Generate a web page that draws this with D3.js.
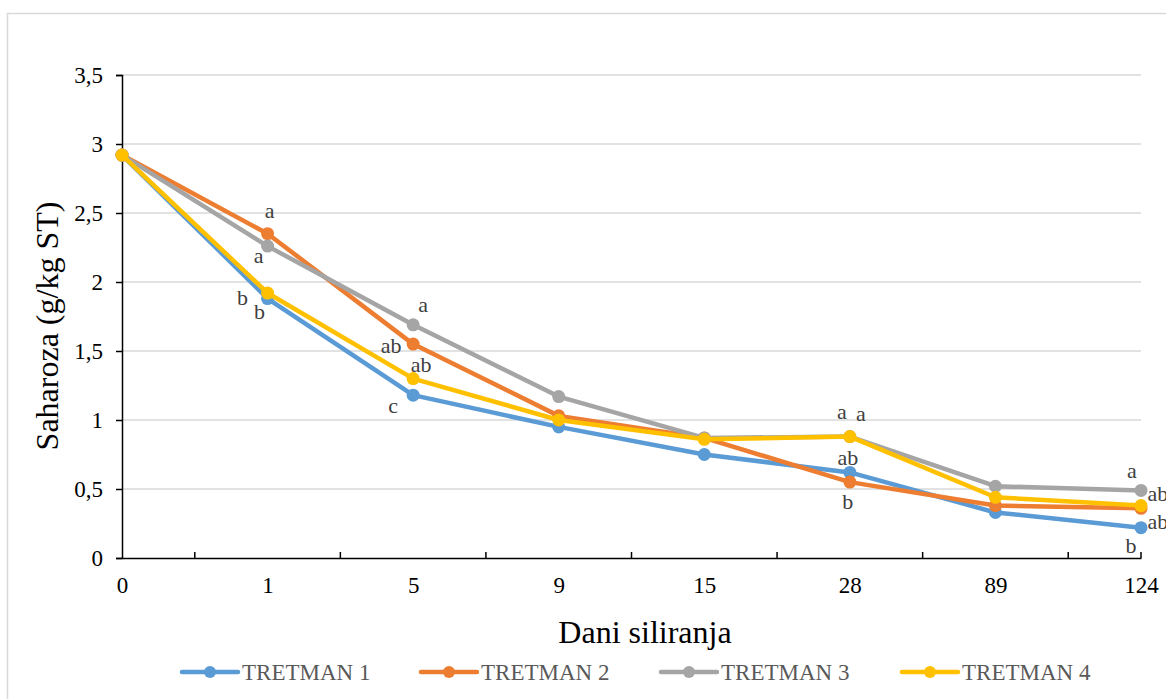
<!DOCTYPE html>
<html>
<head>
<meta charset="utf-8">
<script src="https://cdnjs.cloudflare.com/ajax/libs/d3/7.8.5/d3.min.js"></script>
<style>
    body { margin: 0; background: #fff; }
    svg { display: block; }
    svg text { font-family: "Liberation Serif", "Times New Roman", serif; }
</style>
</head>
<body>
<svg id="chart" width="1166" height="699"></svg>
<script>
// days of silage
var days = ["0", "1", "5", "9", "15", "28", "89", "124"];
var seriesNames = ["TRETMAN 1", "TRETMAN 2", "TRETMAN 3", "TRETMAN 4"];
var tretman1 = [2.92, 1.88, 1.18, 0.95, 0.75, 0.62, 0.33, 0.22];
var tretman2 = [2.92, 2.35, 1.55, 1.03, 0.87, 0.55, 0.38, 0.36];
var tretman3 = [2.92, 2.26, 1.69, 1.17, 0.87, 0.88, 0.52, 0.49];
var tretman4 = [2.92, 1.92, 1.30, 1.00, 0.86, 0.88, 0.44, 0.38];
var yTicks = [0, 0.5, 1, 1.5, 2, 2.5, 3, 3.5];

// significance letters: [series, day index, letter]
var letters = [
    [1, 1, "a"], [2, 1, "a"], [3, 1, "b"], [0, 1, "b"],
    [2, 2, "a"], [1, 2, "ab"], [3, 2, "ab"], [0, 2, "c"],
    [2, 5, "a"], [3, 5, "a"], [0, 5, "ab"], [1, 5, "b"],
    [2, 7, "a"], [3, 7, "ab"], [0, 7, "ab"], [0, 7, "b"]
];
// where each letter sits relative to its point
var letterOffsets = [
    [2, -22], [-9, 11], [-25, 6], [-8, 14],
    [10, -19], [-22, 3], [8, -13], [-20, 12],
    [-8, -24], [11, -22], [-2, -13], [-2, 21],
    [-9, -18], [17, -11], [17, -5], [-10, 19]
];

var colors = ["#5B9BD5", "#ED7D31", "#A5A5A5", "#FFC000"];
var allSeries = [tretman1, tretman2, tretman3, tretman4];
var serif = "Liberation Serif";

var svg = d3.select("#chart");

// outer chart border
svg.append("rect")
    .attr("x", 7.5).attr("y", 13.5)
    .attr("width", 1200).attr("height", 720)
    .attr("fill", "none")
    .attr("stroke", "#d9d9d9")
    .attr("stroke-width", 1.5);

var x = d3.scalePoint().domain(days).range([122, 1141]);
var xi = d3.scaleLinear().domain([0, days.length - 1]).range([122, 1141]);
var y = d3.scaleLinear().domain([0, 3.5]).range([558, 75]);

// gridlines
svg.append("g")
    .selectAll("line")
    .data(yTicks.slice(1))
    .enter().append("line")
    .attr("x1", 122).attr("x2", 1141)
    .attr("y1", function (d) { return y(d); })
    .attr("y2", function (d) { return y(d); })
    .attr("stroke", "#d9d9d9")
    .attr("stroke-width", 1.5);

// y axis
var yAxis = svg.append("g")
    .attr("transform", "translate(122,0)")
    .call(d3.axisLeft(y).tickValues(yTicks).tickSize(6).tickPadding(13)
        .tickFormat(function (d) { return String(d).replace(".", ","); }));
yAxis.attr("font-family", serif);
yAxis.select(".domain").attr("stroke", "#000").attr("stroke-width", 1.5);
yAxis.selectAll(".tick line").attr("stroke", "#000").attr("stroke-width", 1.5);
yAxis.selectAll("text")
    .attr("font-size", 23)
    .attr("fill", "#000");

// x axis, labels on categories, tick marks between them
var xAxis = svg.append("g")
    .attr("transform", "translate(0,558)")
    .call(d3.axisBottom(x).tickSize(0).tickPadding(19));
xAxis.attr("font-family", serif);
xAxis.select(".domain").attr("stroke", "#000").attr("stroke-width", 1.5);
xAxis.selectAll("text")
    .attr("font-size", 23)
    .attr("fill", "#000");

var midTicks = d3.range(0.5, days.length - 1, 1).concat([days.length - 1]);
svg.append("g")
    .selectAll("line")
    .data(midTicks)
    .enter().append("line")
    .attr("x1", function (d) { return xi(d); })
    .attr("x2", function (d) { return xi(d); })
    .attr("y1", 558).attr("y2", 552)
    .attr("stroke", "#000")
    .attr("stroke-width", 1.5);

// axis titles
svg.append("text")
    .attr("x", 645).attr("y", 643)
    .attr("text-anchor", "middle")
    .attr("font-family", serif)
    .attr("font-size", 32)
    .attr("fill", "#000")
    .text("Dani siliranja");

svg.append("text")
    .attr("transform", "translate(58,326) rotate(-90)")
    .attr("text-anchor", "middle")
    .attr("font-family", serif)
    .attr("font-size", 32)
    .attr("fill", "#000")
    .text("Saharoza (g/kg ST)");

// lines
var line = d3.line()
    .x(function (d, i) { return x(days[i]); })
    .y(function (d) { return y(d); });

allSeries.forEach(function (values, s) {
    var g = svg.append("g");
    g.append("path")
        .datum(values)
        .attr("d", line)
        .attr("fill", "none")
        .attr("stroke", colors[s])
        .attr("stroke-width", 4.5)
        .attr("stroke-linejoin", "round")
        .attr("stroke-linecap", "round");
    g.selectAll("circle")
        .data(values)
        .enter().append("circle")
        .attr("cx", function (d, i) { return x(days[i]); })
        .attr("cy", function (d) { return y(d); })
        .attr("r", 6.5)
        .attr("fill", colors[s]);
});

// significance letters
svg.append("g")
    .selectAll("text")
    .data(letters)
    .enter().append("text")
    .attr("x", function (d, k) { return x(days[d[1]]) + letterOffsets[k][0]; })
    .attr("y", function (d, k) { return y(allSeries[d[0]][d[1]]) + letterOffsets[k][1] + 6; })
    .attr("text-anchor", "middle")
    .attr("font-family", serif)
    .attr("font-size", 22)
    .attr("fill", "#404040")
    .text(function (d) { return d[2]; });

// legend
var legendX = [182, 421, 661, 902];
var legend = svg.append("g")
    .selectAll("g")
    .data(seriesNames)
    .enter().append("g")
    .attr("transform", function (d, i) { return "translate(" + legendX[i] + ",672)"; });
legend.append("line")
    .attr("x1", 0).attr("x2", 56)
    .attr("stroke", function (d, i) { return colors[i]; })
    .attr("stroke-width", 4.5)
    .attr("stroke-linecap", "round");
legend.append("circle")
    .attr("cx", 28).attr("r", 6)
    .attr("fill", function (d, i) { return colors[i]; });
legend.append("text")
    .attr("x", 60).attr("y", 8)
    .attr("font-family", serif)
    .attr("font-size", 23)
    .attr("fill", "#595959")
    .text(function (d) { return d; });
</script>
</body>
</html>
